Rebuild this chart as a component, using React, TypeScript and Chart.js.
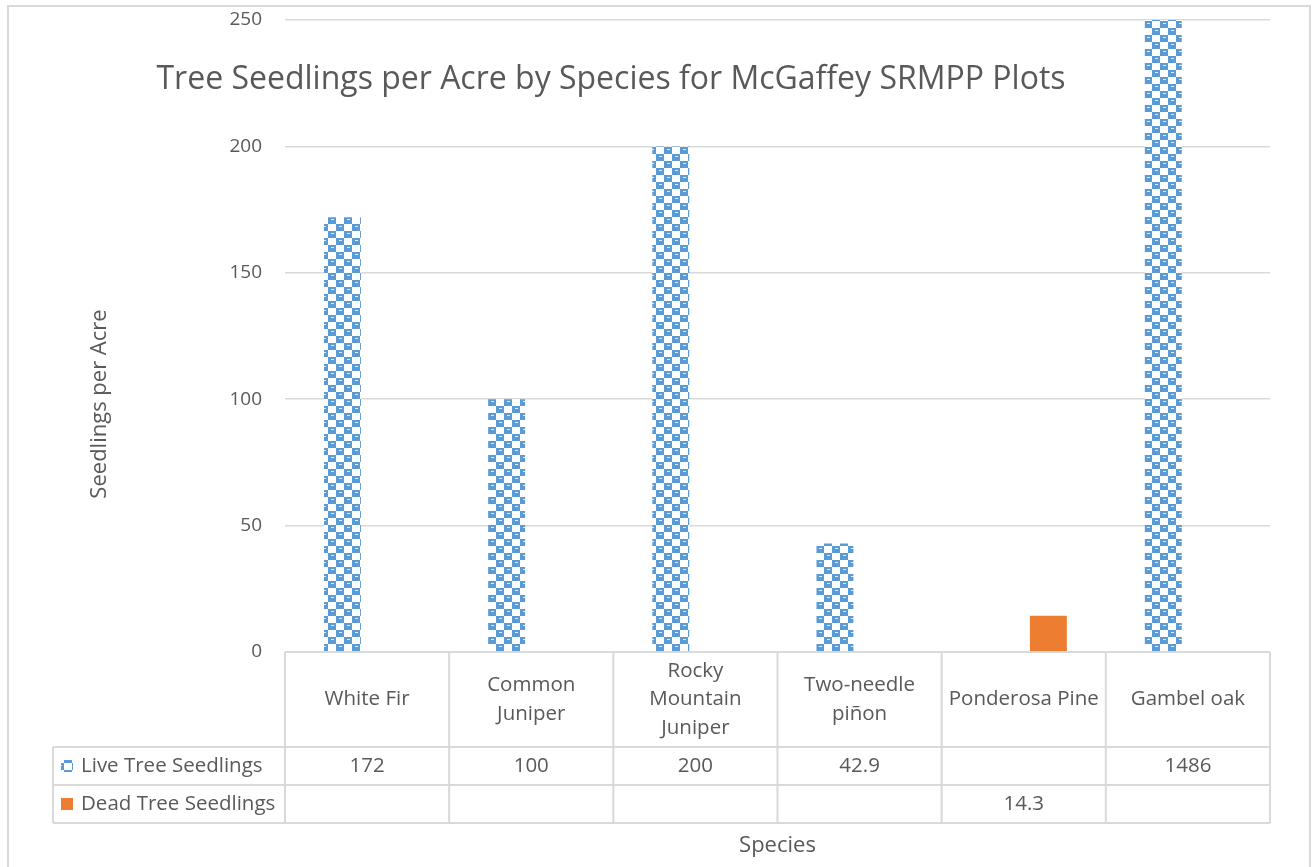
import { useEffect, useRef } from "react";
import { Chart, registerables } from "chart.js";

Chart.register(...registerables);

const categories: string[][] = [
  ["White Fir"],
  ["Common", "Juniper"],
  ["Rocky", "Mountain", "Juniper"],
  ["Two-needle", "piñon"],
  ["Ponderosa Pine"],
  ["Gambel oak"],
];
const liveValues: (number | null)[] = [172, 100, 200, 42.9, null, 1486];
const deadValues: (number | null)[] = [null, null, null, null, 14.3, null];
const liveLabels = ["172", "100", "200", "42.9", "", "1486"];
const deadLabels = ["", "", "", "", "14.3", ""];
const seriesNames = ["Live Tree Seedlings", "Dead Tree Seedlings"];
const yTicks = [0, 50, 100, 150, 200, 250];
const titleText = "Tree Seedlings per Acre by Species for McGaffey SRMPP Plots";
const xTitle = "Species";
const yTitle = "Seedlings per Acre";

const W = 1312;
const H = 867;
const BLUE = "#5B9BD5";
const ORANGE = "#ED7D31";
const TEXT = "#595959";
const GRID = "#d9d9d9";
const FONT = "'Open Sans', 'Noto Sans', sans-serif";

export default function App() {
  const ref = useRef<HTMLCanvasElement>(null);

  useEffect(() => {
    document.body.style.margin = "0";
    const canvas = ref.current!;
    const c2d = canvas.getContext("2d")!;

    const tile = document.createElement("canvas");
    tile.width = 16;
    tile.height = 14;
    const t = tile.getContext("2d")!;
    t.fillStyle = "#ffffff";
    t.fillRect(0, 0, 16, 14);
    t.fillStyle = BLUE;
    t.fillRect(0, 0, 8, 7);
    t.fillRect(8, 7, 8, 7);
    t.fillStyle = "#e3edf8";
    t.fillRect(3, 2, 3, 1);
    t.fillRect(11, 9, 3, 1);
    const pattern = c2d.createPattern(tile, "repeat")!;

    const tablePlugin = {
      id: "excelTable",
      afterDraw(chart: any) {
        const ctx: CanvasRenderingContext2D = chart.ctx;
        const ca = chart.chartArea;
        const xs = chart.scales.x;
        const n = categories.length;
        const colW = ca.width / n;
        const headTop = ca.bottom;
        const headBot = 747;
        const row1Bot = 785;
        const row2Bot = 823;
        const tableLeft = 53;

        ctx.save();
        ctx.strokeStyle = GRID;
        ctx.lineWidth = 2;
        ctx.beginPath();
        ctx.moveTo(ca.left, headTop);
        ctx.lineTo(ca.right, headTop);
        [headBot, row1Bot, row2Bot].forEach((yy) => {
          ctx.moveTo(tableLeft, yy);
          ctx.lineTo(ca.right, yy);
        });
        ctx.moveTo(tableLeft, headBot);
        ctx.lineTo(tableLeft, row2Bot);
        for (let i = 0; i <= n; i++) {
          const xx = ca.left + i * colW;
          ctx.moveTo(xx, headTop);
          ctx.lineTo(xx, row2Bot);
        }
        ctx.stroke();

        ctx.fillStyle = TEXT;
        ctx.font = `20.5px ${FONT}`;
        ctx.textAlign = "center";
        ctx.textBaseline = "middle";
        const headMid = (headTop + headBot) / 2;
        const lh = 28.5;
        categories.forEach((lines, i) => {
          const cx = xs.getPixelForValue(i);
          const y0 = headMid - ((lines.length - 1) * lh) / 2;
          lines.forEach((ln, k) => ctx.fillText(ln, cx, y0 + k * lh));
          ctx.fillText(liveLabels[i], cx, (headBot + row1Bot) / 2);
          ctx.fillText(deadLabels[i], cx, (row1Bot + row2Bot) / 2);
        });

        // legend keys
        ctx.textAlign = "left";
        const r1 = (headBot + row1Bot) / 2;
        const r2 = (row1Bot + row2Bot) / 2;
        ctx.fillStyle = pattern;
        ctx.fillRect(61, r1 - 6, 12, 12);
        ctx.fillStyle = ORANGE;
        ctx.fillRect(61, r2 - 6, 12, 12);
        ctx.fillStyle = TEXT;
        ctx.fillText(seriesNames[0], 81, r1);
        ctx.fillText(seriesNames[1], 81, r2);

        // axis titles
        ctx.textAlign = "center";
        ctx.font = `22px ${FONT}`;
        ctx.fillText(xTitle, (ca.left + ca.right) / 2, 846);
        ctx.save();
        ctx.translate(100, 404);
        ctx.rotate(-Math.PI / 2);
        ctx.fillText(yTitle, 0, 0);
        ctx.restore();

        // main title
        ctx.font = `32px ${FONT}`;
        ctx.fillText(titleText, 611, 80);

        // outer border
        ctx.strokeStyle = GRID;
        ctx.lineWidth = 2;
        ctx.strokeRect(8, 6, 1302, 900);
        ctx.restore();
      },
    };

    const chart = new Chart(canvas, {
      type: "bar",
      data: {
        labels: categories.map((c) => c.join(" ")),
        datasets: [
          {
            label: seriesNames[0],
            data: liveValues,
            backgroundColor: pattern as any,
            borderWidth: 0,
          },
          {
            label: seriesNames[1],
            data: deadValues,
            backgroundColor: ORANGE,
            borderWidth: 0,
          },
        ],
      },
      options: {
        responsive: false,
        animation: false,
        devicePixelRatio: 1,
        layout: { padding: { left: 0, top: 20, right: 42, bottom: 215 } },
        datasets: {
          bar: { categoryPercentage: 0.6, barPercentage: 0.75, skipNull: false },
        },
        plugins: {
          legend: { display: false },
          tooltip: { enabled: false },
          title: { display: false },
        },
        scales: {
          x: {
            display: false,
          },
          y: {
            min: 0,
            max: 250,
            afterFit: (s: any) => {
              s.width = 285;
              s.paddingTop = 0;
              s.paddingBottom = 0;
            },
            afterBuildTicks: (s: any) => {
              s.ticks = yTicks.map((v) => ({ value: v }));
            },
            border: { display: false },
            grid: { color: GRID, lineWidth: 1.5, drawTicks: false },
            ticks: {
              padding: 23,
              color: TEXT,
              font: { size: 19, family: FONT },
            },
          },
        },
      },
      plugins: [tablePlugin],
    });
    return () => chart.destroy();
  }, []);

  return (
    <div style={{ width: W, height: H, position: "relative", background: "#fff" }}>
      <canvas ref={ref} width={W} height={H} style={{ width: W, height: H, display: "block" }} />
    </div>
  );
}
